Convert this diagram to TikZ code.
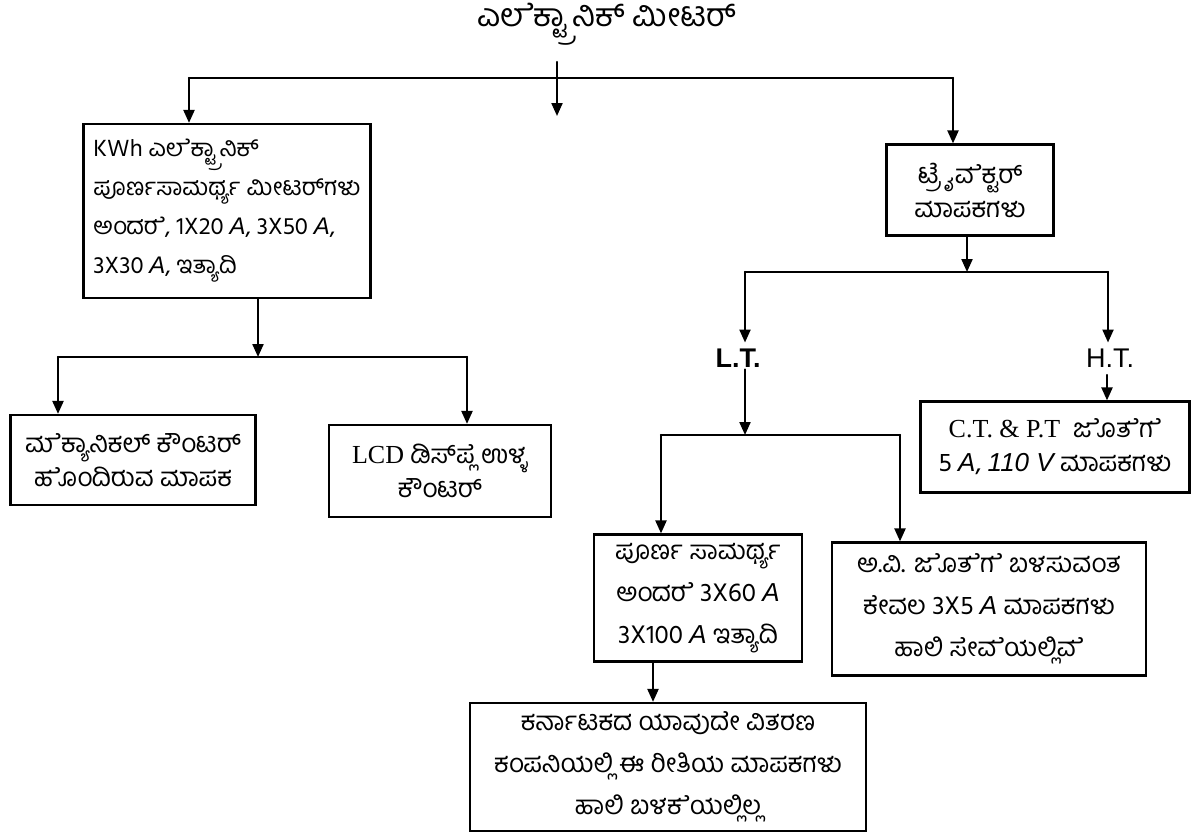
\documentclass[tikz,border=0pt]{standalone}
\usepackage{fontspec}
\setmainfont{Liberation Sans}
\newfontfamily\kn[Script=Kannada]{Hind Mysuru}
\newfontfamily\ser{Liberation Serif}
\usetikzlibrary{arrows.meta}
\newcommand\itA{{\rmfamily\itshape A}}
\tikzset{
  ln/.style={line width=2.2pt, line cap=round},
  arr/.style={ln, -{Triangle[length=13pt,width=11pt]}},
  box/.style={draw, line width=2.2pt, inner sep=4pt, align=center,
    font=\kn\fontsize{26}{34}\selectfont},
  box3/.style={box, font=\kn\fontsize{26}{42}\selectfont},
  lbl/.style={inner sep=2pt, font=\fontsize{27}{30}\selectfont}
}
\begin{document}
\begin{tikzpicture}[x=1pt,y=-1pt]
\useasboundingbox (0,0) rectangle (1196,838);
\fill[white] (0,0) rectangle (1196,838);

% title
\node[font=\kn\fontsize{32}{36}\selectfont] (title) at (607,24) {ಎಲ^^^^200dೆಕ್ಟ್ರಾನಿಕ್ ಮೀಟರ್};

% boxes
\node[box, minimum width=287pt, minimum height=174pt, align=left,
      font=\kn\fontsize{24}{39}\selectfont] (kwh) at (227,211)
  {KWh ಎಲ^^^^200dೆಕ್ಟ್ರಾನಿಕ್\\ ಪೂರ್ಣಸಾಮರ್ಥ್ಯ ಮೀಟರ್^^^^200cಗಳು\\ ಅಂದರ^^^^200dೆ, 1X20 \itA, 3X50 \itA,\\ 3X30 \itA, ಇತ್ಯಾದಿ};
\node[box, minimum width=167pt, minimum height=91pt] (tri) at (970,190)
  {ಟ್ರ^^^^200dೈವ^^^^200dೆಕ್ಟರ್\\ ಮಾಪಕಗಳು};
\node[box, minimum width=245pt, minimum height=90pt] (mech) at (133,460)
  {ಮ^^^^200dೆಕ್ಯಾನಿಕಲ್ ಕೌಂಟರ್\\ ಹ^^^^200dೊಂದಿರುವ ಮಾಪಕ};
\node[box, minimum width=222pt, minimum height=92pt] (lcd) at (440,471)
  {{\ser LCD} ಡಿಸ್^^^^200cಪ್ಲ^^^^200dೆ ಉಳ್ಳ\\ ಕೌಂಟರ್};
\node[lbl, font=\bfseries\fontsize{27}{30}\selectfont] (lt) at (738,358) {L.T.};
\node[lbl] (ht) at (1110,358) {H.T.};
\node[box, minimum width=269pt, minimum height=91pt] (ct) at (1055,447)
  {{\ser C.T. \& P.T}\ \ ಜ^^^^200dೊತ^^^^200dೆಗ^^^^200dೆ\\ 5 \itA, {\rmfamily\itshape 110 V} ಮಾಪಕಗಳು};
\node[box3, minimum width=208pt, minimum height=127pt] (pur) at (698,598)
  {ಪೂರ್ಣ ಸಾಮರ್ಥ್ಯ\\ ಅಂದರ^^^^200dೆ 3X60 \itA\\ 3X100 \itA\ ಇತ್ಯಾದಿ};
\node[box3, minimum width=314pt, minimum height=133pt] (av) at (989,609)
  {ಅ.ವಿ. ಜ^^^^200dೊತ^^^^200dೆಗ^^^^200dೆ ಬಳಸುವಂತ\\ ಕೇವಲ 3X5 \itA\ ಮಾಪಕಗಳು\\ ಹಾಲಿ ಸೇವ^^^^200dೆಯಲ್ಲಿವ^^^^200dೆ};
\node[box3, minimum width=396pt, minimum height=128pt] (kar) at (668,767)
  {ಕರ್ನಾಟಕದ ಯಾವುದೇ ವಿತರಣ\\ ಕಂಪನಿಯಲ್ಲಿ ಈ ರೀತಿಯ ಮಾಪಕಗಳು\\ ಹಾಲಿ ಬಳಕ^^^^200dೆಯಲ್ಲಿಲ್ಲ};

% top level connectors
\coordinate (hL) at (189,78);
\coordinate (hR) at (953,78);
\coordinate (mA) at (557,62);
\coordinate (mB) at (557,116);
\draw[ln] (hL) -- (hR);
\draw[arr] (hL) -- (hL |- kwh.north);
\draw[arr] (hR) -- (hR |- tri.north);
\draw[arr] (mA) -- (mB);

% kwh branch
\coordinate (j1) at (258,357);
\coordinate (b1L) at (58,357);
\coordinate (b1R) at (467,357);
\draw[arr] (kwh.south -| j1) -- (j1);
\draw[ln] (b1L) -- (b1R);
\draw[arr] (b1L) -- (b1L |- mech.north);
\draw[arr] (b1R) -- (b1R |- lcd.north);

% trivector branch
\coordinate (j2) at (967,272);
\coordinate (b2L) at (745,272);
\coordinate (b2R) at (1108,272);
\draw[arr] (tri.south -| j2) -- (j2);
\draw[ln] (b2L) -- (b2R);
\draw[arr, shorten >=4pt] (b2L) -- (b2L |- lt.north);
\draw[arr, shorten >=4pt] (b2R) -- (b2R |- ht.north);

% L.T. branch
\coordinate (j3) at (745,435);
\coordinate (b3L) at (661,435);
\coordinate (b3R) at (900,435);
\draw[arr] (lt.south -| j3) -- (j3);
\draw[ln] (b3L) -- (b3R);
\draw[arr] (b3L) -- (b3L |- pur.north);
\draw[arr] (b3R) -- (b3R |- av.north);

% H.T. to C.T.
\coordinate (h4) at (1107,375);
\draw[arr] (h4) -- (h4 |- ct.north);

% purna to karnataka
\coordinate (p5) at (653,662);
\draw[arr] (pur.south -| p5) -- (p5 |- kar.north);
\end{tikzpicture}
\end{document}
